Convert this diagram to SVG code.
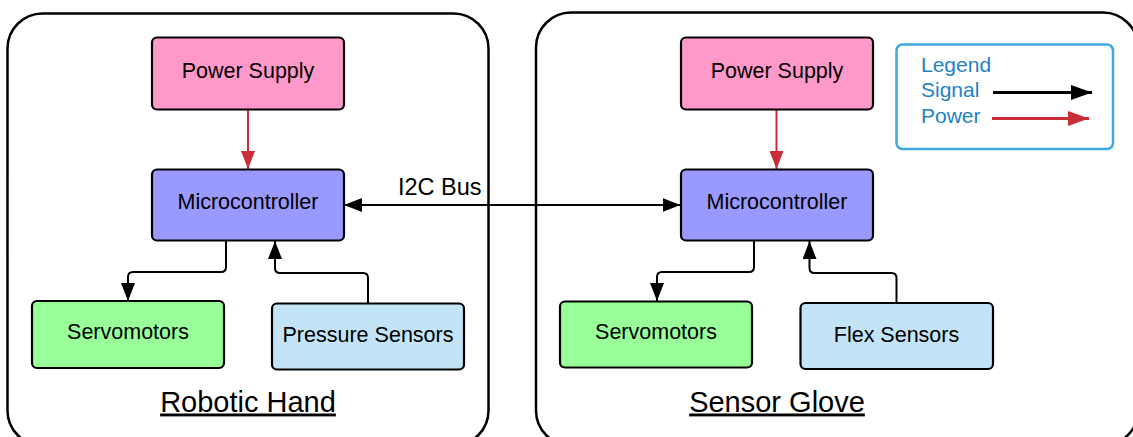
<svg xmlns="http://www.w3.org/2000/svg" width="1133" height="437" viewBox="0 0 1133 437">
  <style>
    .frame { fill: #ffffff; stroke: #000000; stroke-width: 2.5; }
    .node { stroke: #000000; stroke-width: 2.2; }
    .power-src { fill: #ff99c9; }
    .mcu { fill: #9999ff; }
    .actuator { fill: #99ff99; }
    .sensor { fill: #c2e4f6; }
    .label { font-family: "Liberation Sans", Arial, sans-serif; font-size: 21.5px; fill: #000000; text-anchor: middle; }
    .title { font-family: "Liberation Sans", Arial, sans-serif; font-size: 29px; fill: #000000; text-anchor: middle; text-decoration: underline; }
    .bus { font-family: "Liberation Sans", Arial, sans-serif; font-size: 23.5px; fill: #000000; }
    .legend-text { font-family: "Liberation Sans", Arial, sans-serif; font-size: 21px; fill: #1f82c3; }
    .signal { fill: none; stroke: #000000; stroke-width: 2; }
    .power { fill: none; stroke: #c92d39; stroke-width: 2; }
    .legend-line { stroke-width: 3; }
  </style>
  <defs>
    <marker id="arrow-signal" markerUnits="userSpaceOnUse" markerWidth="19" markerHeight="14" refX="18" refY="7" orient="auto-start-reverse" viewBox="0 0 19 14">
      <path d="M0,0 L18,7 L0,14 Z" fill="#000000"/>
    </marker>
    <marker id="arrow-power" markerUnits="userSpaceOnUse" markerWidth="19" markerHeight="14" refX="18" refY="7" orient="auto" viewBox="0 0 19 14">
      <path d="M0,0 L18,7 L0,14 Z" fill="#c92d39"/>
    </marker>
    <marker id="legend-signal" markerUnits="userSpaceOnUse" markerWidth="22" markerHeight="15" refX="21" refY="7.5" orient="auto" viewBox="0 0 22 15">
      <path d="M0,0 L21,7.5 L0,15 Z" fill="#000000"/>
    </marker>
    <marker id="legend-power" markerUnits="userSpaceOnUse" markerWidth="22" markerHeight="15" refX="21" refY="7.5" orient="auto" viewBox="0 0 22 15">
      <path d="M0,0 L21,7.5 L0,15 Z" fill="#c92d39"/>
    </marker>
  </defs>

  <!-- subsystem frames -->
  <g id="frame-robotic-hand">
    <rect class="frame" x="7.5" y="13.5" width="481" height="432" rx="35"/>
    <text class="title" x="248" y="411.5">Robotic Hand</text>
  </g>
  <g id="frame-sensor-glove">
    <rect class="frame" x="536" y="12.5" width="602" height="433" rx="35"/>
    <text class="title" x="777" y="411.5">Sensor Glove</text>
  </g>

  <!-- connectors -->
  <g id="connectors">
    <!-- robotic hand -->
    <path class="power" d="M248,109 V169" marker-end="url(#arrow-power)"/>
    <path class="signal" d="M226,241 V267 Q226,272 221,272 H133 Q128,272 128,277 V301" marker-end="url(#arrow-signal)"/>
    <path class="signal" d="M368,303 V278 Q368,273 363,273 H280 Q275,273 275,268 V241" marker-end="url(#arrow-signal)"/>
    <!-- sensor glove -->
    <path class="power" d="M776.5,109 V169" marker-end="url(#arrow-power)"/>
    <path class="signal" d="M754,241 V267 Q754,272 749,272 H662 Q657,272 657,277 V301" marker-end="url(#arrow-signal)"/>
    <path class="signal" d="M896.5,303 V278 Q896.5,273 891.5,273 H814.5 Q809.5,273 809.5,268 V241" marker-end="url(#arrow-signal)"/>
    <!-- I2C link between the two microcontrollers -->
    <path class="signal" d="M344,205 H680.5" marker-start="url(#arrow-signal)" marker-end="url(#arrow-signal)"/>
    <text class="bus" x="398" y="195">I2C Bus</text>
  </g>

  <!-- robotic hand nodes -->
  <g id="hand-power-supply">
    <rect class="node power-src" x="152" y="37.5" width="192" height="72" rx="5"/>
    <text class="label" x="248" y="78">Power Supply</text>
  </g>
  <g id="hand-microcontroller">
    <rect class="node mcu" x="152" y="169.5" width="192" height="71" rx="5"/>
    <text class="label" x="248" y="209">Microcontroller</text>
  </g>
  <g id="hand-servomotors">
    <rect class="node actuator" x="32" y="301" width="192" height="67" rx="5"/>
    <text class="label" x="128" y="339">Servomotors</text>
  </g>
  <g id="hand-pressure-sensors">
    <rect class="node sensor" x="272" y="303.5" width="192" height="66" rx="5"/>
    <text class="label" x="368" y="342" textLength="171" lengthAdjust="spacingAndGlyphs">Pressure Sensors</text>
  </g>

  <!-- sensor glove nodes -->
  <g id="glove-power-supply">
    <rect class="node power-src" x="681" y="37.5" width="192" height="72" rx="5"/>
    <text class="label" x="777" y="78">Power Supply</text>
  </g>
  <g id="glove-microcontroller">
    <rect class="node mcu" x="681" y="169.5" width="192" height="71" rx="5"/>
    <text class="label" x="777" y="209">Microcontroller</text>
  </g>
  <g id="glove-servomotors">
    <rect class="node actuator" x="560" y="301.5" width="192" height="66" rx="5"/>
    <text class="label" x="656" y="339">Servomotors</text>
  </g>
  <g id="glove-flex-sensors">
    <rect class="node sensor" x="800.5" y="303" width="192.5" height="66" rx="5"/>
    <text class="label" x="896.5" y="342">Flex Sensors</text>
  </g>

  <!-- legend -->
  <g id="legend">
    <rect x="896.5" y="44.5" width="216.5" height="104.5" rx="6" fill="#ffffff" stroke="#3ca9e2" stroke-width="2.5"/>
    <text class="legend-text" x="921" y="72">Legend</text>
    <text class="legend-text" x="921" y="97">Signal</text>
    <text class="legend-text" x="921" y="123">Power</text>
    <path class="signal legend-line" d="M993,92.5 H1092" marker-end="url(#legend-signal)"/>
    <path class="power legend-line" d="M992,118.5 H1089" marker-end="url(#legend-power)"/>
  </g>
</svg>
